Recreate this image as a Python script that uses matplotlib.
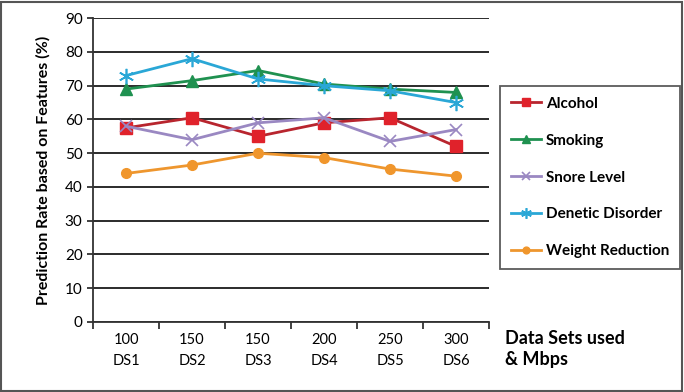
import matplotlib
matplotlib.use("Agg")
import matplotlib.pyplot as plt
import numpy as np
from matplotlib.patches import Rectangle

plt.rcParams['font.family'] = ['Lato', 'DejaVu Sans']

categories = ["100\nDS1", "150\nDS2", "150\nDS3", "200\nDS4", "250\nDS5", "300\nDS6"]
alcohol = [57.5, 60.5, 55.0, 59.0, 60.5, 52.0]
smoking = [69.0, 71.5, 74.5, 70.5, 69.0, 68.0]
snore = [58.0, 54.0, 59.0, 60.5, 53.5, 57.0]
denetic = [73.0, 78.0, 72.0, 70.0, 68.5, 65.0]
weight = [44.0, 46.5, 50.0, 48.7, 45.3, 43.2]

series = [
    ("Alcohol", alcohol, "#b8252e", "#e0222b", "s", 9, 1.0),
    ("Smoking", smoking, "#1f9150", "#1f9150", "^", 9, 1.0),
    ("Snore Level", snore, "#9a88c2", "#9a88c2", "x", 9, 1.2),
    ("Denetic Disorder", denetic, "#2aa7d6", "#2aa7d6", (6, 2, 0), 11, 1.2),
    ("Weight Reduction", weight, "#ee962e", "#f0962c", "o", 7, 1.0),
]

fig = plt.figure(figsize=(6.84, 3.92), dpi=100)
ax = fig.add_axes([0.136, 0.1786, 0.579, 0.775])

x = np.arange(len(categories))
for name, vals, lc, mc, mk, ms, mew in series:
    ax.plot(x, vals, color=lc, lw=2, marker=mk, markersize=ms,
            markerfacecolor=mc, markeredgecolor=mc, markeredgewidth=mew, label=name)

ax.set_xlim(-0.5, len(categories) - 0.5)
ax.set_ylim(0, 90)
ax.set_yticks(np.arange(0, 91, 10))
ax.yaxis.grid(True, color="#1a1a1a", lw=1.3)
ax.set_axisbelow(True)
for s in ["top", "right"]:
    ax.spines[s].set_visible(False)
for s in ["left", "bottom"]:
    ax.spines[s].set_color("#333333")
    ax.spines[s].set_linewidth(1.3)

ax.set_xticks(np.arange(-0.5, len(categories), 1.0))
ax.set_xticklabels([])
ax.set_xticks(x, minor=True)
ax.set_xticklabels(categories, minor=True, fontsize=10.5, linespacing=1.6)
ax.tick_params(axis="x", which="major", direction="out", length=5, color="#333333", width=1.3)
ax.tick_params(axis="x", which="minor", length=0, pad=8)
ax.tick_params(axis="y", direction="out", length=4, color="#333333", width=1.3, labelsize=11)

ax.set_ylabel("Prediction Rate based on Features (%)", fontsize=11.5, fontweight="bold", labelpad=10)

fig.text(0.738, 0.06, "Data Sets used\n& Mbps", fontsize=13, fontweight="bold",
         ha="left", va="bottom", linespacing=1.3)

leg = fig.legend(loc="upper left", bbox_to_anchor=(0.720, 0.80), frameon=True,
                 fancybox=False, edgecolor="#333333",
                 prop={"weight": "bold", "size": 11}, labelspacing=1.5,
                 handlelength=2.0, handletextpad=0.3, borderpad=0.7, markerscale=0.7)
leg.get_frame().set_linewidth(1.3)

fig.patches.append(Rectangle((0.002, 0.003), 0.995, 0.993, transform=fig.transFigure,
                             fill=False, edgecolor="#555555", lw=1.5))

fig.savefig("out.png", dpi=100)
